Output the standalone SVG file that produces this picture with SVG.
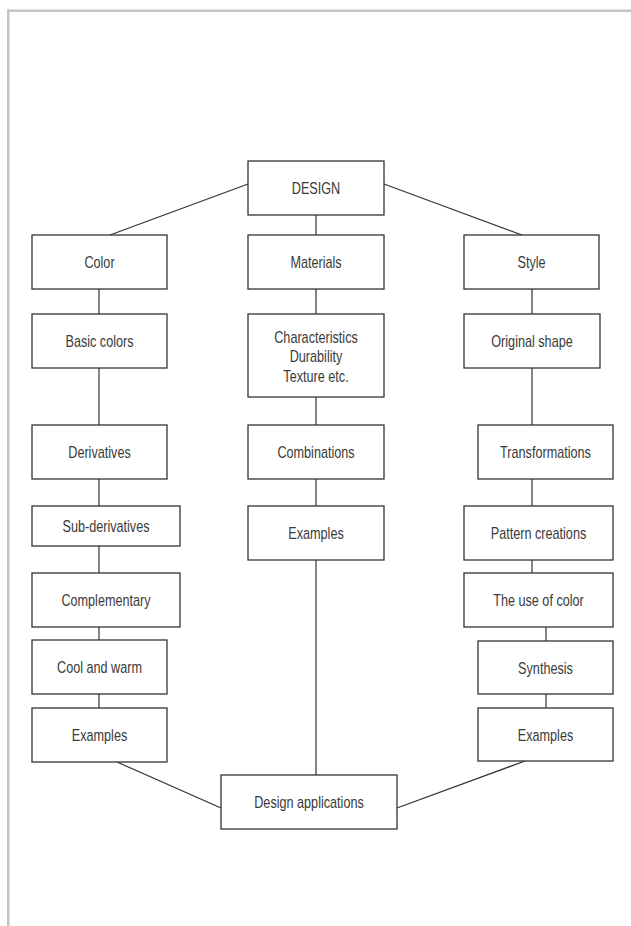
<svg xmlns="http://www.w3.org/2000/svg" width="631" height="926" viewBox="0 0 631 926">
<style>
.frame{fill:#c4c4c4}
.box{fill:#fff;stroke:#333;stroke-width:1.3}
.ln{stroke:#333;stroke-width:1.2;fill:none}
text{font-family:"Liberation Sans",Arial,sans-serif;font-size:16px;fill:#3a3a3a;text-anchor:middle}
</style>
<rect width="631" height="926" fill="#fff"/>
<rect class="frame" x="7" y="9.5" width="624" height="2.5"/>
<rect class="frame" x="7" y="9.5" width="2.5" height="916.5"/>
<g id="connectors">
<line class="ln" x1="248" y1="184" x2="110" y2="235"/>
<line class="ln" x1="384" y1="184" x2="522" y2="235"/>
<line class="ln" x1="316" y1="215" x2="316" y2="235"/>
<line class="ln" x1="99" y1="289" x2="99" y2="314"/>
<line class="ln" x1="99" y1="368" x2="99" y2="425"/>
<line class="ln" x1="99" y1="479" x2="99" y2="506"/>
<line class="ln" x1="99" y1="546" x2="99" y2="573"/>
<line class="ln" x1="99" y1="627" x2="99" y2="640"/>
<line class="ln" x1="99" y1="694" x2="99" y2="708"/>
<line class="ln" x1="316" y1="289" x2="316" y2="314"/>
<line class="ln" x1="316" y1="397" x2="316" y2="425"/>
<line class="ln" x1="316" y1="479" x2="316" y2="506"/>
<line class="ln" x1="316" y1="560" x2="316" y2="775"/>
<line class="ln" x1="532" y1="289" x2="532" y2="314"/>
<line class="ln" x1="532" y1="368" x2="532" y2="425"/>
<line class="ln" x1="532" y1="479" x2="532" y2="506"/>
<line class="ln" x1="532" y1="560" x2="532" y2="573"/>
<line class="ln" x1="546" y1="627" x2="546" y2="641"/>
<line class="ln" x1="546" y1="694" x2="546" y2="708"/>
<line class="ln" x1="117" y1="762" x2="221" y2="808"/>
<line class="ln" x1="525" y1="761" x2="397" y2="808"/>
</g>
<g id="design"><rect class="box" x="248" y="161" width="136" height="54"/><text transform="translate(316 194) scale(0.79 1)">DESIGN</text></g>
<g id="color"><rect class="box" x="32" y="235" width="135" height="54"/><text transform="translate(99.5 268) scale(0.79 1)">Color</text></g>
<g id="materials"><rect class="box" x="248" y="235" width="136" height="54"/><text transform="translate(316 268) scale(0.79 1)">Materials</text></g>
<g id="style"><rect class="box" x="464" y="235" width="135" height="54"/><text transform="translate(531.5 268) scale(0.79 1)">Style</text></g>
<g id="basic-colors"><rect class="box" x="32" y="314" width="135" height="54"/><text transform="translate(99.5 347) scale(0.79 1)">Basic colors</text></g>
<g id="characteristics"><rect class="box" x="248" y="314" width="136" height="83"/><text transform="translate(316 342.5) scale(0.79 1)">Characteristics</text><text transform="translate(316 362) scale(0.79 1)">Durability</text><text transform="translate(316 381.5) scale(0.79 1)">Texture etc.</text></g>
<g id="original-shape"><rect class="box" x="464" y="314" width="136" height="54"/><text transform="translate(532 347) scale(0.79 1)">Original shape</text></g>
<g id="derivatives"><rect class="box" x="32" y="425" width="135" height="54"/><text transform="translate(99.5 458) scale(0.79 1)">Derivatives</text></g>
<g id="combinations"><rect class="box" x="248" y="425" width="136" height="54"/><text transform="translate(316 458) scale(0.79 1)">Combinations</text></g>
<g id="transformations"><rect class="box" x="478" y="425" width="135" height="54"/><text transform="translate(545.5 458) scale(0.79 1)">Transformations</text></g>
<g id="sub-derivatives"><rect class="box" x="32" y="506" width="148" height="40"/><text transform="translate(106 532) scale(0.79 1)">Sub-derivatives</text></g>
<g id="examples-m"><rect class="box" x="248" y="506" width="136" height="54"/><text transform="translate(316 539) scale(0.79 1)">Examples</text></g>
<g id="pattern-creations"><rect class="box" x="464" y="506" width="149" height="54"/><text transform="translate(538.5 539) scale(0.79 1)">Pattern creations</text></g>
<g id="complementary"><rect class="box" x="32" y="573" width="148" height="54"/><text transform="translate(106 606) scale(0.79 1)">Complementary</text></g>
<g id="use-of-color"><rect class="box" x="464" y="573" width="149" height="54"/><text transform="translate(538.5 606) scale(0.79 1)">The use of color</text></g>
<g id="cool-warm"><rect class="box" x="32" y="640" width="135" height="54"/><text transform="translate(99.5 673) scale(0.79 1)">Cool and warm</text></g>
<g id="synthesis"><rect class="box" x="478" y="641" width="135" height="53"/><text transform="translate(545.5 673.5) scale(0.79 1)">Synthesis</text></g>
<g id="examples-l"><rect class="box" x="32" y="708" width="135" height="54"/><text transform="translate(99.5 741) scale(0.79 1)">Examples</text></g>
<g id="examples-r"><rect class="box" x="478" y="708" width="135" height="53"/><text transform="translate(545.5 740.5) scale(0.79 1)">Examples</text></g>
<g id="design-applications"><rect class="box" x="221" y="775" width="176" height="54"/><text transform="translate(309 808) scale(0.79 1)">Design applications</text></g>
</svg>
